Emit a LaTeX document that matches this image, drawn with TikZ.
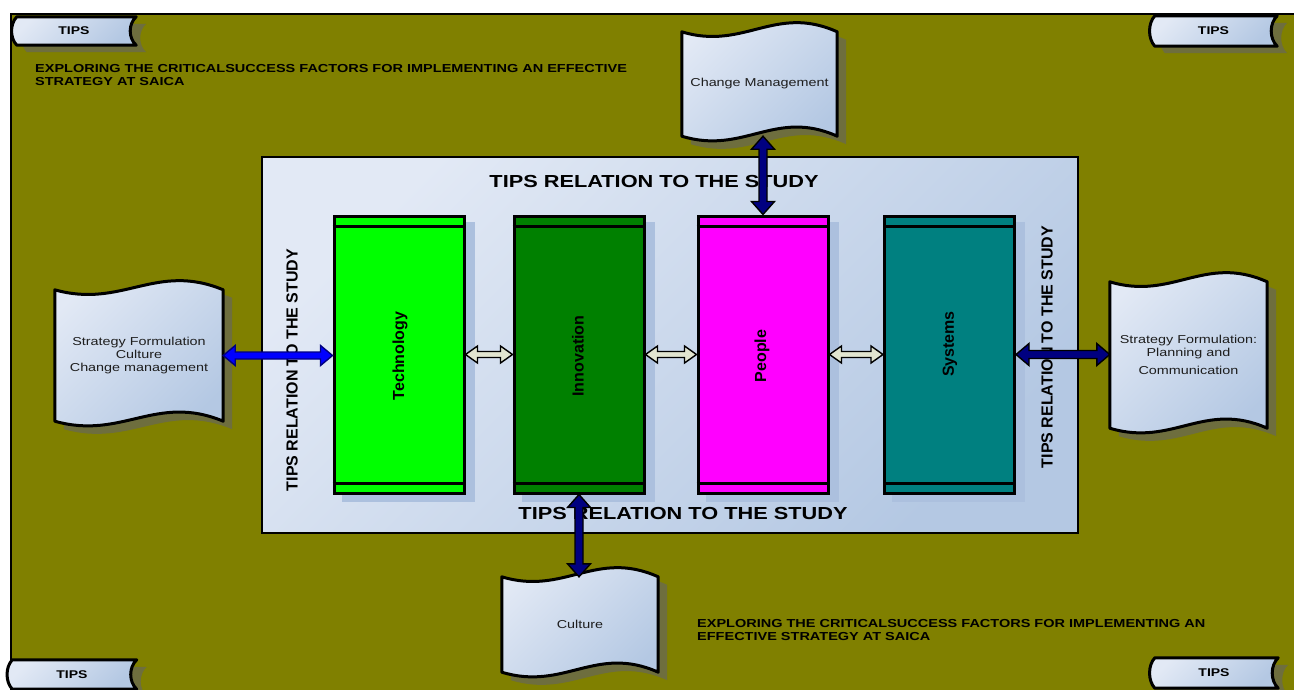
\documentclass[tikz,border=0pt]{standalone}
\usepackage{fontspec}
\setmainfont{Liberation Sans}
\newfontfamily\widefont[FakeStretch=1.25]{Liberation Sans}
\usetikzlibrary{calc}

\definecolor{olivebg}{RGB}{128,128,0}
\definecolor{lightfill}{RGB}{226,233,245}
\definecolor{darkfill}{RGB}{180,200,227}
\definecolor{docshadow}{RGB}{110,110,62}
\definecolor{boxshadow}{RGB}{172,192,222}
\definecolor{navyarrow}{RGB}{0,0,128}
\definecolor{bluearrow}{RGB}{0,0,255}
\definecolor{linkfill}{RGB}{226,229,208}
\definecolor{techgreen}{RGB}{0,255,0}
\definecolor{innovgreen}{RGB}{0,128,0}
\definecolor{peoplemag}{RGB}{255,0,255}
\definecolor{systeal}{RGB}{0,128,128}
\definecolor{doctext}{RGB}{30,30,30}

\pgfdeclarelayer{backlayer}
\pgfdeclarelayer{shadowlayer}
\pgfdeclarelayer{shapelayer}
\pgfsetlayers{backlayer,shadowlayer,shapelayer,main}

\newcommand\setfs[2]{\fontsize{#1pt}{#2pt}\selectfont}

% horizontal double block arrow: from, to, style, half shaft, half head, head length
\newcommand\harrow[6]{%
  \filldraw[#3] let \p1=(#1), \p2=(#2) in
    (\x1,\y1) -- (\x1+#6,\y1+#5) -- (\x1+#6,\y1+#4) -- (\x2-#6,\y1+#4)
    -- (\x2-#6,\y1+#5) -- (\x2,\y1) -- (\x2-#6,\y1-#5) -- (\x2-#6,\y1-#4)
    -- (\x1+#6,\y1-#4) -- (\x1+#6,\y1-#5) -- cycle;}
% vertical double block arrow (top end, bottom end), x taken from the bottom end
\newcommand\varrow[6]{%
  \filldraw[#3] let \p1=(#1), \p2=(#2) in
    (\x2,\y1) -- (\x2+#5,\y1-#6) -- (\x2+#4,\y1-#6) -- (\x2+#4,\y2+#6)
    -- (\x2+#5,\y2+#6) -- (\x2,\y2) -- (\x2-#5,\y2+#6) -- (\x2-#4,\y2+#6)
    -- (\x2-#4,\y1-#6) -- (\x2-#5,\y1-#6) -- cycle;}
% document outline with wavy top and bottom: node, offset, style
\newcommand\wavydoc[3]{%
  \path[#3] let \p1=($(#1.north west)+(#2)$), \p2=($(#1.south east)+(#2)$), \n1={\x2-\x1} in
    (\x1,\y1) .. controls (\x1+0.4*\n1,\y1-19pt) and (\x1+0.6*\n1,\y1+28pt) .. (\x2,\y1)
    -- (\x2,\y2) .. controls (\x1+0.6*\n1,\y2+28pt) and (\x1+0.4*\n1,\y2-19pt) .. (\x1,\y2)
    -- cycle;}
% stored-data tab outline: node, offset, style
\newcommand\tabpath[3]{%
  \path[#3] let \p1=($(#1.north west)+(#2)$), \p2=($(#1.south east)+(#2)$), \n1={\y1-\y2} in
    (\x1+5pt,\y1) -- (\x2,\y1) .. controls (\x2-8pt,\y1-0.25*\n1) and (\x2-8pt,\y2+0.25*\n1) .. (\x2,\y2)
    -- (\x1+5pt,\y2) .. controls (\x1-2pt,\y2+0.25*\n1) and (\x1-2pt,\y1-0.25*\n1) .. (\x1+5pt,\y1)
    -- cycle;}

\begin{document}
\begin{tikzpicture}[x=1pt,y=-1pt,
  gradfill/.style={top color=lightfill, bottom color=darkfill, shading angle=45},
  outline/.style={draw=black, line width=3pt, line join=round},
  tabnode/.style={inner sep=0pt, font=\widefont\bfseries\setfs{11.2}{13}},
  docnode/.style={inner sep=0pt, align=center, text=doctext, font=\widefont\setfs{11.5}{13}},
  smalltitle/.style={inner sep=0pt, align=left, font=\widefont\bfseries\setfs{11.6}{13}},
  bigtitle/.style={inner sep=0pt, font=\widefont\bfseries\setfs{17.4}{20}},
  sidetitle/.style={inner sep=0pt, rotate=90, font=\bfseries\setfs{16}{19}},
  boxlabel/.style={inner sep=0pt, rotate=90, font=\bfseries\setfs{16}{19}},
  factorbox/.style={draw=black, line width=3pt, minimum width=130pt, minimum height=277pt, inner sep=0pt},
  linkarrow/.style={fill=linkfill, draw=black, line width=1.4pt, line join=miter},
  navyarrow/.style={fill=navyarrow, draw=black, line width=1.4pt, line join=miter},
  bluearrow/.style={fill=bluearrow, draw=navyarrow, line width=1.4pt, line join=miter}]

\useasboundingbox (0,0) rectangle (1294,689);
\clip (0,0) rectangle (1294,689);

% ---------- background ----------
\begin{pgfonlayer}{backlayer}
  \fill[white] (0,0) rectangle (1294,689);
  \filldraw[fill=olivebg, draw=black, line width=2.2pt] (11,14) rectangle (1310,710);
  \node[draw=black, line width=2.6pt, gradfill, minimum width=816pt, minimum height=376pt] (panel) at (670,345) {};
\end{pgfonlayer}

% ---------- corner tabs ----------
\node[tabnode, minimum width=124pt, minimum height=28pt] (tipsTL) at (74,31) {TIPS};
\node[tabnode, minimum width=127pt, minimum height=30pt] (tipsTR) at (1213.5,31) {TIPS};
\node[tabnode, minimum width=129pt, minimum height=29pt] (tipsBL) at (72,674.5) {TIPS};
\node[tabnode, minimum width=128pt, minimum height=30pt] (tipsBR) at (1214,673) {TIPS};
\foreach \t in {tipsTL,tipsTR,tipsBL,tipsBR}{
  \begin{pgfonlayer}{shadowlayer}
    \tabpath{\t}{10,7}{fill=docshadow}
  \end{pgfonlayer}
  \begin{pgfonlayer}{shapelayer}
    \tabpath{\t}{0,0}{outline, gradfill}
  \end{pgfonlayer}
}

% ---------- headings ----------
\node[smalltitle, anchor=north west] (headTL) at (35,64.5)
  {EXPLORING THE CRITICALSUCCESS FACTORS FOR IMPLEMENTING AN EFFECTIVE\\STRATEGY AT SAICA};
\node[smalltitle, anchor=north west] (headBR) at (697,619.5)
  {EXPLORING THE CRITICALSUCCESS FACTORS FOR IMPLEMENTING AN\\EFFECTIVE STRATEGY AT SAICA};

% ---------- documents ----------
\node[docnode, minimum width=155pt, minimum height=104pt] (cm) at (759.5,84) {Change Management};
\node[docnode, minimum width=168pt, minimum height=131pt] (ldoc) at (139,355.5)
  {Strategy Formulation\\Culture\\Change management};
\node[docnode, minimum width=157pt, minimum height=146pt] (rdoc) at (1188.5,355)
  {Strategy Formulation:\\Planning and\\[5pt]Communication};
\node[docnode, minimum width=156pt, minimum height=95pt] (culture) at (580,624.5) {Culture};
\foreach \d in {cm,ldoc,rdoc,culture}{
  \begin{pgfonlayer}{shadowlayer}
    \wavydoc{\d}{9,8}{fill=docshadow}
  \end{pgfonlayer}
  \begin{pgfonlayer}{shapelayer}
    \wavydoc{\d}{0,0}{outline, gradfill}
  \end{pgfonlayer}
}

% ---------- panel titles ----------
\node[bigtitle] (titleTop) at (654,182) {TIPS RELATION TO THE STUDY};
\node[bigtitle] (titleBot) at (683,514) {TIPS RELATION TO THE STUDY};
\node[sidetitle] (titleL) at (292,370) {TIPS RELATION TO THE STUDY};
\node[sidetitle] (titleR) at (1047,347) {TIPS RELATION TO THE STUDY};

% ---------- factor boxes ----------
\node[factorbox, fill=techgreen] (tech) at (399,354.5) {};
\node[factorbox, fill=innovgreen] (innov) at (579,354.5) {};
\node[factorbox, fill=peoplemag] (people) at (763,354.5) {};
\node[factorbox, fill=systeal] (sys) at (949.5,354.5) {};
\foreach \b in {tech,innov,people,sys}{
  \begin{pgfonlayer}{shadowlayer}
    \fill[boxshadow] ($(\b.north west)+(9,7)$) rectangle ($(\b.south east)+(9,7)$);
  \end{pgfonlayer}
  \draw[line width=2.4pt] ([yshift=-12pt]\b.north west) -- ([yshift=-12pt]\b.north east);
  \draw[line width=2.4pt] ([yshift=11pt]\b.south west) -- ([yshift=11pt]\b.south east);
}
\node[boxlabel] (techL) at (400,356) {Technology};
\node[boxlabel] (innovL) at (578,356) {Innovation};
\node[boxlabel] (peopleL) at (762,356) {People};
\node[boxlabel] (sysL) at (950,344) {Systems};

% ---------- connectors ----------
\harrow{ldoc.east}{tech.west}{bluearrow}{3.5pt}{10pt}{12pt}
\harrow{tech.east}{innov.west}{linkarrow}{3pt}{8.5pt}{12pt}
\harrow{innov.east}{people.west}{linkarrow}{3pt}{8.5pt}{12pt}
\harrow{people.east}{sys.west}{linkarrow}{3pt}{8.5pt}{12pt}
\harrow{sys.east}{rdoc.west}{navyarrow}{4pt}{11pt}{13pt}
\varrow{cm.south}{people.north}{navyarrow}{4pt}{11.5pt}{13pt}
\varrow{innov.south}{culture.north -| innov.south}{navyarrow}{4pt}{11.5pt}{13pt}

\end{tikzpicture}
\end{document}
